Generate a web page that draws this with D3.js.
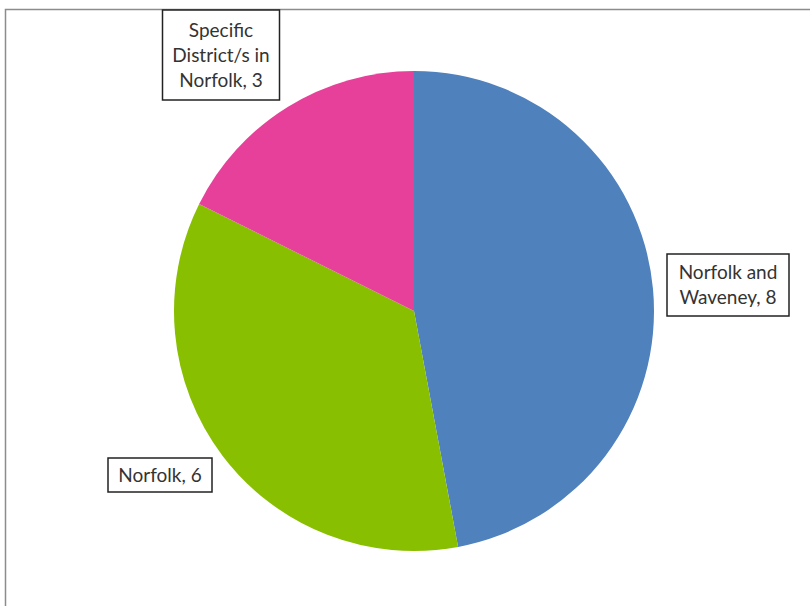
<!DOCTYPE html>
<html>
<head>
<meta charset="utf-8">
<script src="https://cdn.jsdelivr.net/npm/d3@7"></script>
<style>
  body { margin: 0; background: #fff; }
  svg { display: block; }
  .lbl { font-family: Lato, "Open Sans", sans-serif; font-size: 19px; fill: #333; }
</style>
</head>
<body>
<svg width="810" height="606"></svg>
<script>
// slices, in drawing order (clockwise from 12 o'clock)
var categories = ["Norfolk and Waveney", "Norfolk", "Specific District/s in Norfolk"];
var values = [8, 6, 3];
var colors = ["#4F81BD", "#88BF00", "#E6409B"];
// label lines as they wrap in the original
var labelLines = [
    ["Norfolk and", "Waveney, 8"],
    ["Norfolk, 6"],
    ["Specific", "District/s in", "Norfolk, 3"]
];

var svg = d3.select("svg"),
    cx = 414, cy = 311, radius = 240;

// chart area frame (only top and left edges show in the crop)
svg.append("path")
    .attr("d", "M5.5,606 V9.5 H810")
    .attr("fill", "none")
    .attr("stroke", "#8c8c8c")
    .attr("stroke-width", 1.5);

var data = categories.map(function(c, i) {
    return { name: c, value: values[i], color: colors[i], lines: labelLines[i] };
});

var pie = d3.pie().sort(null).value(function(d) { return d.value; });
var arc = d3.arc().innerRadius(0).outerRadius(radius);

var g = svg.append("g").attr("transform", "translate(" + cx + "," + cy + ")");

g.selectAll("path.slice")
    .data(pie(data))
    .enter().append("path")
    .attr("class", "slice")
    .attr("d", arc)
    .attr("fill", function(d) { return d.data.color; });

// label boxes placed like the original (centre x, top y, width, height)
var boxes = [
    { x: 728, y: 254, w: 122, h: 62 },
    { x: 160, y: 458, w: 104, h: 34 },
    { x: 221, y: 10, w: 117, h: 90 }
];
var lineH = 25;

var lab = svg.selectAll("g.lab")
    .data(data)
    .enter().append("g")
    .attr("class", "lab")
    .attr("transform", function(d, i) { return "translate(" + boxes[i].x + "," + boxes[i].y + ")"; });

lab.append("rect")
    .attr("x", function(d, i) { return -boxes[i].w / 2; })
    .attr("y", 0)
    .attr("width", function(d, i) { return boxes[i].w; })
    .attr("height", function(d, i) { return boxes[i].h; })
    .attr("fill", "#fff")
    .attr("stroke", "#222")
    .attr("stroke-width", 1.5);

lab.each(function(d, i) {
    var b = boxes[i];
    var top = (b.h - d.lines.length * lineH) / 2;
    d3.select(this).selectAll("text")
        .data(d.lines)
        .enter().append("text")
        .attr("class", "lbl")
        .attr("text-anchor", "middle")
        .attr("x", 0)
        .attr("y", function(t, j) { return top + j * lineH + lineH / 2; })
        .attr("dy", "0.35em")
        .text(function(t) { return t; });
});
</script>
</body>
</html>
